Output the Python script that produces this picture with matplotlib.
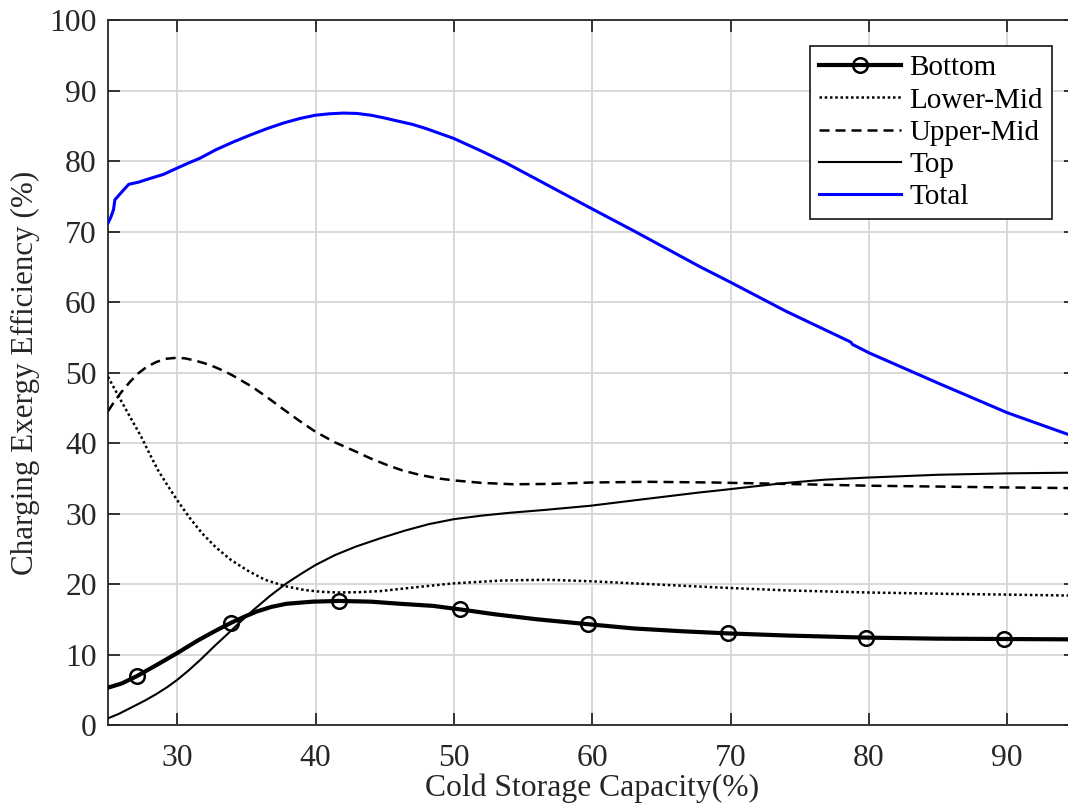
import matplotlib
matplotlib.use("Agg")
import matplotlib.pyplot as plt

plt.rcParams['font.family'] = ['Liberation Serif', 'DejaVu Serif']

# Cold storage capacity (%) and charging exergy efficiency (%) per layer
bottom_x = [25.0, 26.0, 27.1, 28.5, 30.0, 31.5, 32.8, 33.9, 34.9, 35.75, 36.8, 37.9,
            39.8, 41.7, 44.0, 46.1, 48.5, 50.45, 53.0, 56.0, 59.7, 63.0, 66.5,
            69.8, 74.0, 79.8, 85.0, 89.8, 95.0]
bottom_y = [5.3, 5.9, 6.95, 8.5, 10.2, 12.0, 13.4, 14.5, 15.4, 16.1, 16.75, 17.2,
            17.5, 17.6, 17.5, 17.2, 16.9, 16.4, 15.7, 15.0, 14.3, 13.7, 13.3,
            13.0, 12.7, 12.4, 12.25, 12.2, 12.15]
bottom_markers = [2, 7, 13, 17, 20, 23, 25, 27]

lowermid_x = [25.0, 25.5, 26.2, 26.8, 27.4, 28.0, 28.6, 29.3, 30.0, 30.9, 31.8,
              32.8, 33.9, 35.1, 36.35, 37.8, 39.2, 40.4, 41.65, 43.2, 44.7, 47.5,
              50.0, 53.5, 56.7, 59.85, 64.0, 69.25, 74.0, 79.9, 86.0, 90.0, 95.0]
lowermid_y = [49.4, 47.6, 45.1, 43.0, 40.9, 38.5, 36.2, 34.0, 31.9, 29.4, 27.2,
              25.2, 23.4, 21.9, 20.6, 19.7, 19.15, 18.9, 18.8, 18.85, 19.0, 19.6,
              20.1, 20.5, 20.6, 20.4, 20.0, 19.5, 19.1, 18.8, 18.6, 18.5, 18.35]

uppermid_x = [25.0, 25.5, 26.0, 26.6, 27.2, 27.8, 28.5, 29.2, 30.0, 30.6, 31.3,
              32.0, 32.7, 33.4, 34.0, 35.4, 36.5, 37.6, 38.8, 40.0, 41.4, 42.9,
              44.0, 45.15, 46.3, 47.5, 48.8, 50.0, 52.0, 54.3, 57.0, 59.9, 64.0,
              68.8, 74.0, 79.9, 86.0, 90.0, 95.0]
uppermid_y = [44.5, 46.0, 47.3, 48.7, 49.9, 50.8, 51.5, 51.95, 52.1, 52.0, 51.7,
              51.3, 50.8, 50.2, 49.6, 48.0, 46.5, 44.9, 43.2, 41.6, 40.1, 38.8,
              37.8, 36.9, 36.1, 35.5, 35.0, 34.7, 34.35, 34.15, 34.2, 34.4, 34.5,
              34.4, 34.2, 33.95, 33.8, 33.7, 33.6]

top_x = [25.0, 25.8, 26.8, 27.7, 28.5, 29.3, 30.0, 30.8, 31.65, 32.7, 33.8, 34.6,
         35.5, 36.7, 37.9, 39.0, 40.0, 41.4, 42.9, 44.7, 46.5, 48.2, 50.0, 52.0,
         54.0, 56.5, 59.85, 64.0, 67.8, 69.25, 71.5, 73.8, 76.8, 79.9, 85.0, 90.0,
         95.0]
top_y = [0.95, 1.6, 2.6, 3.5, 4.4, 5.4, 6.4, 7.7, 9.2, 11.2, 13.2, 14.7, 16.3,
         18.3, 20.1, 21.5, 22.7, 24.1, 25.3, 26.5, 27.6, 28.5, 29.2, 29.7, 30.1,
         30.5, 31.1, 32.1, 33.0, 33.3, 33.8, 34.3, 34.8, 35.1, 35.5, 35.7, 35.8]

total_x = [25.0, 25.2, 25.4, 25.5, 25.9, 26.5, 27.2, 28.0, 29.0, 30.0, 30.8,
           31.65, 32.8, 34.05, 35.3, 36.5, 37.7, 38.9, 40.0, 41.0, 42.0, 43.0,
           44.0, 45.0, 46.1, 47.0, 48.0, 49.0, 50.0, 51.9, 53.8, 56.0, 58.0,
           60.1, 63.0, 67.8, 70.0, 74.0, 78.5, 78.7, 78.8, 80.0, 85.0, 90.0, 95.0]
total_y = [71.2, 72.0, 73.1, 74.5, 75.4, 76.7, 77.0, 77.5, 78.1, 79.0, 79.7,
           80.4, 81.6, 82.7, 83.7, 84.6, 85.4, 86.05, 86.5, 86.7, 86.8, 86.75,
           86.5, 86.1, 85.6, 85.2, 84.6, 83.9, 83.2, 81.5, 79.7, 77.4, 75.3,
           73.1, 70.1, 65.0, 62.8, 58.7, 54.5, 54.3, 54.0, 52.8, 48.5, 44.3, 40.8]

fig = plt.figure(figsize=(10.68, 8.11), dpi=100)
ax = fig.add_axes([0.1011, 0.106, 0.9068, 0.8693])

ax.plot(bottom_x, bottom_y, color='black', lw=3.0, marker='o', markersize=10.5,
        markerfacecolor='none', markeredgewidth=1.8, markevery=bottom_markers,
        label='Bottom', zorder=5)
ax.plot(lowermid_x, lowermid_y, color='black', lw=1.8, linestyle=(0, (1, 1.1)),
        label='Lower-Mid', zorder=4)
ax.plot(uppermid_x, uppermid_y, color='black', lw=1.8, linestyle=(0, (4, 2.4)),
        label='Upper-Mid', zorder=4)
ax.plot(top_x, top_y, color='black', lw=1.5, label='Top', zorder=4)
ax.plot(total_x, total_y, color='#0000ff', lw=2.2, label='Total', zorder=4)

ax.set_xlim(25, 95)
ax.set_ylim(0, 100)
ax.set_xticks(range(30, 91, 10))
ax.set_yticks(range(0, 101, 10))

ax.grid(True, color='#d6d6d6', lw=1.3)
ax.set_axisbelow(True)

for s in ax.spines.values():
    s.set_color('#262626')
    s.set_linewidth(1.3)

ax.tick_params(axis='both', direction='in', length=8.5, width=1.3,
               color='#262626', labelsize=22.8, labelcolor='#262626',
               top=True, right=True)
ax.tick_params(axis='x', pad=14)
ax.tick_params(axis='y', pad=8)

ax.set_xlabel('Cold Storage Capacity(%)', fontsize=22.8, color='#262626',
              labelpad=0)
ax.set_ylabel('Charging Exergy Efficiency (%)', fontsize=22.4, color='#262626',
              labelpad=7)

leg = ax.legend(loc='upper right', bbox_to_anchor=(0.9745, 0.963),
                fontsize=21, frameon=True, fancybox=False, edgecolor='#262626',
                framealpha=1, labelspacing=0.2, handlelength=2.8,
                handletextpad=0.3, borderpad=0.3, borderaxespad=0,
                numpoints=1)
leg.get_frame().set_linewidth(1.3)

fig.savefig('out.png', dpi=100)
